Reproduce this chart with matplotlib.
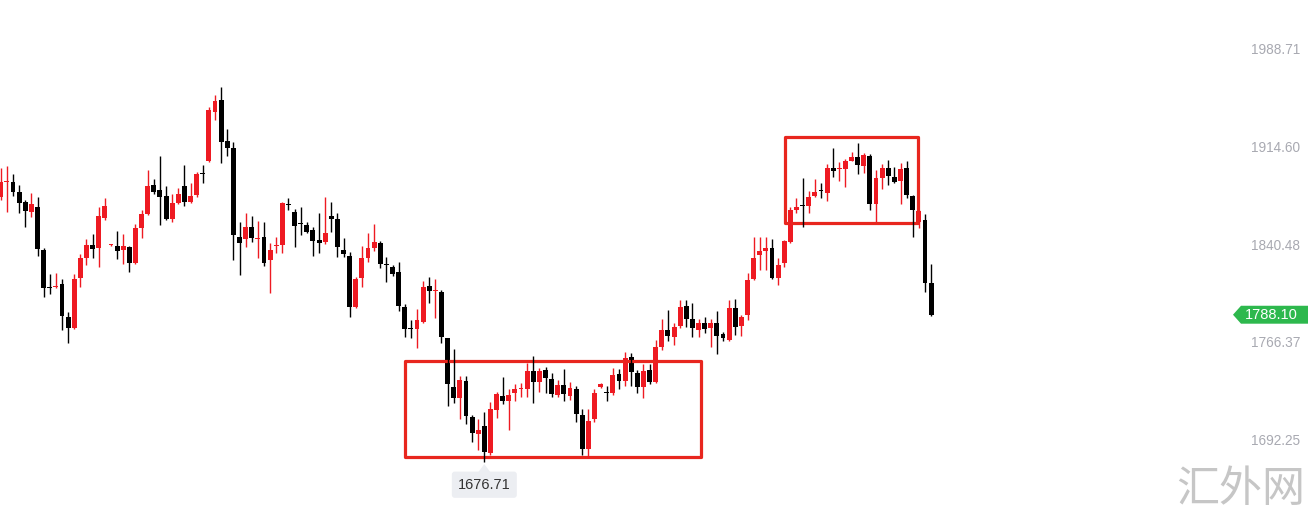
import numpy as np
import matplotlib
matplotlib.use('Agg')
import matplotlib.pyplot as plt
from matplotlib.patches import Rectangle, Polygon
import matplotlib.transforms as mtransforms

plt.rcParams['font.family'] = ['Liberation Sans', 'Noto Sans CJK SC', 'DejaVu Sans']

# OHLC
opens = [1877.3, 1888.7, 1888.7, 1881.1, 1873.5, 1865.9, 1869.7, 1837.2, 1808.6, 1808.9,
         1811.4, 1786.4, 1778.0, 1815.9, 1831.1, 1841.0, 1838.7, 1861.4, 1840.6, 1840.2,
         1837.2, 1839.4, 1827.3, 1853.8, 1864.4, 1886.4, 1882.6, 1878.1, 1860.6, 1872.8,
         1885.7, 1873.5, 1878.8, 1894.9, 1904.6, 1941.7, 1950.8, 1919.8, 1914.5, 1847.0,
         1845.5, 1854.6, 1845.5, 1847.0, 1829.6, 1839.9, 1840.9, 1871.4, 1865.9, 1857.0,
         1856.1, 1852.3, 1844.7, 1843.2, 1862.9, 1860.6, 1837.2, 1832.6, 1794.0, 1815.9,
         1831.1, 1838.7, 1842.5, 1826.0, 1824.3, 1820.5, 1794.0, 1777.5, 1777.3, 1782.6,
         1809.9, 1805.9, 1805.3, 1770.5, 1733.3, 1725.0, 1737.9, 1710.6, 1697.7, 1703.8,
         1683.3, 1715.9, 1726.5, 1722.7, 1728.8, 1731.6, 1731.8, 1745.5, 1737.1, 1746.2,
         1739.4, 1727.2, 1734.9, 1726.5, 1731.8, 1712.1, 1686.3, 1709.1, 1733.3, 1729.0,
         1728.8, 1743.2, 1737.9, 1756.1, 1744.0, 1733.3, 1746.2, 1737.1, 1763.6, 1776.5,
         1771.2, 1779.6, 1794.7, 1784.9, 1776.5, 1781.8, 1778.0, 1781.8, 1773.5, 1769.0,
         1793.2, 1779.6, 1787.9, 1815.2, 1833.4, 1836.4, 1838.7, 1815.9, 1827.3, 1843.2,
         1867.5, 1870.7, 1870.5, 1878.1, 1882.1, 1880.4, 1899.3, 1898.3, 1898.5, 1904.6,
         1907.6, 1900.8, 1908.4, 1872.0, 1891.7, 1899.3, 1892.5, 1889.4, 1899.3, 1878.1,
         1858.4, 1859.9, 1812.1]
highs = [1899.3, 1900.8, 1894.7, 1886.4, 1875.0, 1880.4, 1877.3, 1838.7, 1819.0, 1819.7,
         1815.2, 1790.2, 1819.0, 1834.1, 1845.5, 1849.3, 1869.7, 1876.6, 1841.7, 1851.5,
         1849.3, 1840.2, 1856.9, 1867.5, 1897.8, 1891.0, 1908.4, 1885.7, 1879.6, 1884.1,
         1901.6, 1887.9, 1896.3, 1901.6, 1945.5, 1954.6, 1960.7, 1928.8, 1919.0, 1858.4,
         1865.2, 1862.9, 1859.1, 1858.4, 1842.5, 1847.0, 1873.5, 1876.6, 1868.2, 1869.7,
         1858.4, 1854.6, 1865.2, 1877.3, 1873.5, 1865.2, 1846.2, 1835.6, 1816.7, 1840.2,
         1850.0, 1856.9, 1844.0, 1831.8, 1825.8, 1828.1, 1796.2, 1784.1, 1792.4, 1813.7,
         1816.7, 1815.2, 1806.8, 1770.5, 1762.1, 1741.7, 1741.7, 1712.1, 1709.1, 1714.4,
         1722.0, 1729.5, 1740.9, 1731.8, 1735.6, 1736.4, 1751.5, 1756.8, 1747.7, 1748.5,
         1744.0, 1738.6, 1747.0, 1737.1, 1734.1, 1716.7, 1716.7, 1731.8, 1736.4, 1734.1,
         1747.7, 1747.0, 1759.9, 1759.1, 1746.2, 1750.8, 1750.8, 1769.0, 1784.9, 1791.7,
         1781.8, 1799.3, 1799.3, 1797.0, 1784.9, 1786.4, 1784.9, 1790.9, 1775.0, 1799.3,
         1800.0, 1787.9, 1819.7, 1847.0, 1847.0, 1847.0, 1845.5, 1831.1, 1844.7, 1869.7,
         1876.6, 1891.7, 1881.9, 1891.0, 1887.9, 1902.3, 1914.5, 1903.8, 1906.1, 1911.4,
         1918.2, 1910.7, 1909.9, 1897.8, 1902.3, 1905.4, 1900.1, 1903.1, 1904.6, 1878.8,
         1867.5, 1864.4, 1826.6]
lows = [1875.0, 1865.9, 1878.1, 1865.2, 1854.6, 1862.2, 1832.6, 1801.5, 1803.8, 1808.4,
        1776.5, 1766.7, 1777.3, 1809.1, 1825.8, 1831.1, 1824.3, 1859.9, 1840.2, 1830.3,
        1826.6, 1820.5, 1826.6, 1846.2, 1863.7, 1879.6, 1856.1, 1859.9, 1858.4, 1872.0,
        1870.5, 1873.0, 1877.3, 1887.9, 1903.8, 1935.7, 1903.1, 1908.4, 1829.6, 1818.2,
        1839.4, 1843.2, 1831.1, 1825.0, 1804.6, 1834.9, 1834.9, 1867.5, 1839.4, 1848.5,
        1850.0, 1832.6, 1834.9, 1841.7, 1850.8, 1831.8, 1831.8, 1786.4, 1793.5, 1809.1,
        1828.1, 1836.4, 1823.5, 1812.9, 1817.5, 1790.9, 1771.2, 1770.5, 1762.9, 1782.2,
        1797.0, 1785.6, 1766.7, 1719.0, 1721.2, 1709.1, 1705.3, 1691.7, 1685.6, 1676.71,
        1681.8, 1709.8, 1720.4, 1700.7, 1722.7, 1725.7, 1725.7, 1721.2, 1729.5, 1728.8,
        1725.7, 1725.7, 1722.7, 1723.5, 1706.8, 1681.8, 1679.5, 1706.8, 1732.6, 1722.7,
        1727.2, 1731.8, 1734.1, 1734.1, 1728.8, 1725.0, 1735.6, 1736.4, 1761.4, 1768.2,
        1765.2, 1778.0, 1778.8, 1771.2, 1771.2, 1774.3, 1763.6, 1758.3, 1767.9, 1768.2,
        1772.7, 1772.0, 1784.1, 1814.4, 1822.0, 1822.0, 1815.2, 1810.6, 1824.3, 1842.5,
        1865.2, 1854.6, 1865.2, 1877.3, 1876.6, 1874.3, 1892.5, 1889.4, 1884.9, 1904.3,
        1894.7, 1895.5, 1867.5, 1858.4, 1883.4, 1886.4, 1888.3, 1872.0, 1876.6, 1847.0,
        1853.8, 1805.3, 1787.0]
closes = [1888.7, 1889.4, 1881.1, 1872.8, 1866.7, 1872.0, 1837.9, 1808.4, 1808.2, 1809.3,
          1787.1, 1778.0, 1815.2, 1831.1, 1841.0, 1837.9, 1862.9, 1870.5, 1841.0, 1836.4,
          1840.2, 1827.3, 1853.8, 1864.4, 1885.7, 1881.1, 1877.3, 1860.6, 1872.8, 1879.6,
          1873.5, 1878.1, 1894.7, 1894.5, 1943.2, 1950.1, 1919.0, 1914.5, 1848.5, 1842.5,
          1854.6, 1846.2, 1846.2, 1827.3, 1837.2, 1840.3, 1872.8, 1871.0, 1855.3, 1856.6,
          1850.8, 1844.0, 1842.5, 1850.0, 1860.6, 1839.4, 1834.1, 1794.0, 1815.2, 1831.1,
          1838.7, 1843.2, 1826.5, 1825.6, 1819.0, 1794.7, 1777.3, 1777.1, 1784.1, 1809.1,
          1806.1, 1806.3, 1771.2, 1735.6, 1725.0, 1738.6, 1711.4, 1698.5, 1700.7, 1684.1,
          1716.7, 1728.0, 1722.7, 1727.2, 1731.8, 1732.0, 1745.5, 1737.1, 1745.5, 1740.2,
          1728.0, 1734.9, 1728.0, 1732.6, 1712.9, 1686.3, 1707.6, 1728.8, 1735.6, 1728.6,
          1742.4, 1737.9, 1755.3, 1744.7, 1733.3, 1745.5, 1737.1, 1763.6, 1776.5, 1772.0,
          1778.8, 1794.0, 1784.9, 1778.0, 1781.8, 1777.3, 1781.8, 1772.0, 1770.5, 1793.2,
          1778.8, 1786.4, 1814.4, 1831.1, 1836.4, 1838.7, 1815.9, 1825.8, 1844.0, 1867.5,
          1869.7, 1870.3, 1877.3, 1881.1, 1881.7, 1899.3, 1897.0, 1898.7, 1904.6, 1907.6,
          1901.6, 1909.1, 1872.0, 1891.7, 1899.3, 1893.2, 1888.7, 1898.5, 1878.8, 1867.5,
          1866.7, 1812.1, 1788.10]

price_labels = [1988.71, 1914.60, 1840.48, 1766.37, 1692.25]
last_price = 1788.10

# highlighted zones: (first candle, last candle, low price, high price)
boxes = [(66.05, 114.4, 1680.3, 1753.0),
         (128.1, 149.9, 1857.6, 1922.8)]

up_col = '#ee1a22'
down_col = '#000000'
box_col = '#e8261e'

o = np.array(opens)
h = np.array(highs)
l = np.array(lows)
c = np.array(closes)
x = np.arange(len(o))
cols = [up_col if cc >= oo else down_col for oo, cc in zip(o, c)]

fig = plt.figure(figsize=(13.1, 5.19), dpi=100)
ax = fig.add_axes([0, 0, 1, 1])
ax.axis('off')

ax.vlines(x, l, h, colors=cols, linewidth=1.0)
body = np.abs(c - o)
body = np.where(body < 0.8, 0.8, body)
bottom = np.minimum(o, c)
ax.bar(x, body, bottom=bottom, width=0.8, color=cols, linewidth=0)

# boxes
for x0, x1, y0, y1 in boxes:
    ax.add_patch(Rectangle((x0, y0), x1 - x0, y1 - y0, fill=False,
                           ec=box_col, lw=2.3, joinstyle='round'))

ax.set_xlim(-0.13, 213.9)
ax.set_ylim(1633.3, 2026.6)

# price axis labels on the right
trans = mtransforms.blended_transform_factory(ax.transAxes, ax.transData)
for p in price_labels:
    ax.text(0.9924, p, '%.2f' % p, transform=trans, ha='right', va='center',
            fontsize=9.8, color='#a8a9b1')

# last price tag
hh = 6.8
tag = Polygon([(1233 / 1310, last_price), (1241 / 1310, last_price + hh),
               (1308 / 1310, last_price + hh), (1308 / 1310, last_price - hh),
               (1241 / 1310, last_price - hh)], closed=True, transform=trans,
              fc='#2db84d', ec='none')
ax.add_patch(tag)
ax.text(1271 / 1310, last_price, '%.2f' % last_price, transform=trans,
        ha='center', va='center', fontsize=10.5, color='white')

# lowest price marker
imin = int(np.argmin(l))
ax.add_patch(Polygon([(imin - 1.0, l[imin] - 8.0), (imin, l[imin] - 1.8),
                      (imin + 1.0, l[imin] - 8.0)], closed=True,
                     fc='#eceef2', ec='none'))
ax.annotate('%.2f' % l[imin], xy=(imin, l[imin]), xytext=(0, -23),
            textcoords='offset pixels', ha='center', va='center',
            fontsize=10.5, color='#333333',
            bbox=dict(boxstyle='round,pad=0.42,rounding_size=0.2',
                      fc='#eceef2', ec='none'))

# watermark
fig.text(1241 / 1310, 1 - 490 / 519, '汇外网', ha='center', va='center',
         fontsize=31, color='#c6c6c6', family=['Noto Sans CJK SC'],
         fontweight='light')

plt.savefig('out.png', dpi=100)
plt.close()
